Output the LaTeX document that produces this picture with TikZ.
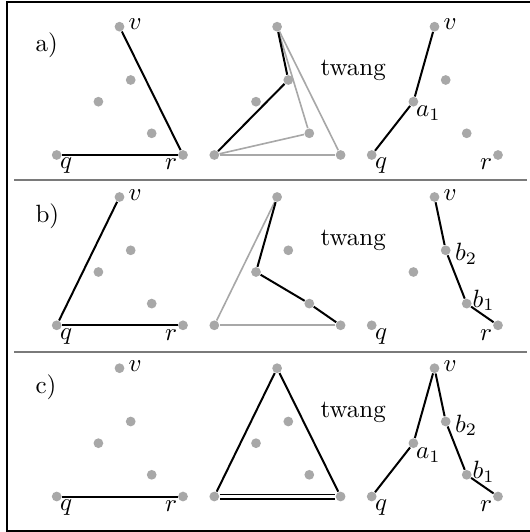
\documentclass[tikz,border=0pt]{standalone}
\usetikzlibrary{calc}
\definecolor{dotgray}{HTML}{A8A8A8}
\definecolor{sepgray}{HTML}{7A7A7A}
\tikzset{
  dot/.style={circle, fill=dotgray, draw=none, inner sep=0pt, minimum size=3.9pt},
  blk/.style={draw=black, line width=0.8pt},
  gry/.style={draw=dotgray, line width=0.65pt},
  lab/.style={inner sep=0pt, font=\fontsize{10}{12}\selectfont},
  framestyle/.style={draw=black, line width=0.8pt},
  sepline/.style={draw=sepgray, line width=0.8pt},
}
\begin{document}
\begin{tikzpicture}[x=0.4pt, y=-0.4pt]
\useasboundingbox (0,0) rectangle (530,532);
\clip (0,0) rectangle (530,532);
\draw[framestyle] (6.5,2) rectangle (545,530.5);
\draw[sepline] (14,180) -- (527,180);
\draw[sepline] (14,351.7) -- (527,351.7);
% dots
\foreach \row/\Y in {a/155, b/325.3, c/496.5} {
  \foreach \pan/\X in {L/56.7, M/214.3, R/371.7} {
    \node[dot] (\row\pan q) at (\X, \Y) {};
    \node[dot] (\row\pan r) at (\X+126.3, \Y) {};
    \node[dot] (\row\pan v) at (\X+62.8, \Y-128.3) {};
    \node[dot] (\row\pan 1) at (\X+74, \Y-75) {};
    \node[dot] (\row\pan 2) at (\X+41.7, \Y-53.3) {};
    \node[dot] (\row\pan 3) at (\X+95, \Y-21.7) {};
  }
  \node[lab, anchor=base west] (\row label) at (35, \Y-103) {\row)};
  \node[lab, anchor=base west] (\row twang) at (320, \Y-79.5) {twang};
  \foreach \pan in {L, R} {
    \node[lab, anchor=base west] (\row\pan vlab) at ($(\row\pan v)+(8.5,3.3)$) {$v$};
    \node[lab, anchor=base west] (\row\pan qlab) at ($(\row\pan q)+(3,14)$) {$q$};
    \node[lab, anchor=base east] (\row\pan rlab) at ($(\row\pan r)+(-5.5,15)$) {$r$};
  }
}
% labels of inner points
\node[lab, anchor=base west] (aa1) at ($(aR2)+(2.2,15.3)$) {$a_1$};
\node[lab, anchor=base west] (ca1) at ($(cR2)+(2.2,15.3)$) {$a_1$};
\node[lab, anchor=base west] (bb2) at ($(bR1)+(9,10.5)$) {$b_2$};
\node[lab, anchor=base west] (cb2) at ($(cR1)+(9,10.5)$) {$b_2$};
\node[lab, anchor=base west] (bb1) at ($(bR3)+(5.5,3.5)$) {$b_1$};
\node[lab, anchor=base west] (cb1) at ($(cR3)+(5.5,3.5)$) {$b_1$};
% row a
\draw[blk] (aLq) -- (aLr);
\draw[blk] (aLr) -- (aLv);
\draw[gry] (aMq) -- (aMr);
\draw[gry] (aMr) -- (aMv);
\draw[gry] (aMq) -- (aM3);
\draw[gry] (aM3) -- (aMv);
\draw[blk] (aMq) -- (aM1);
\draw[blk] (aM1) -- (aMv);
\draw[blk] (aRq) -- (aR2);
\draw[blk] (aR2) -- (aRv);
% row b
\draw[blk] (bLv) -- (bLq);
\draw[blk] (bLq) -- (bLr);
\draw[gry] (bMv) -- (bMq);
\draw[gry] (bMq) -- (bMr);
\draw[blk] (bMv) -- (bM2);
\draw[blk] (bM2) -- (bM3);
\draw[blk] (bM3) -- (bMr);
\draw[blk] (bRv) -- (bR1);
\draw[blk] (bR1) -- (bR3);
\draw[blk] (bR3) -- (bRr);
% row c
\draw[blk] (cLq) -- (cLr);
\draw[blk] (cMv) -- (cMq);
\draw[blk] (cMv) -- (cMr);
\draw[blk, double, double distance=1pt, line width=0.7pt] (cMq) -- (cMr);
\draw[blk] (cRq) -- (cR2);
\draw[blk] (cR2) -- (cRv);
\draw[blk] (cRv) -- (cR1);
\draw[blk] (cR1) -- (cR3);
\draw[blk] (cR3) -- (cRr);
\end{tikzpicture}
\end{document}
